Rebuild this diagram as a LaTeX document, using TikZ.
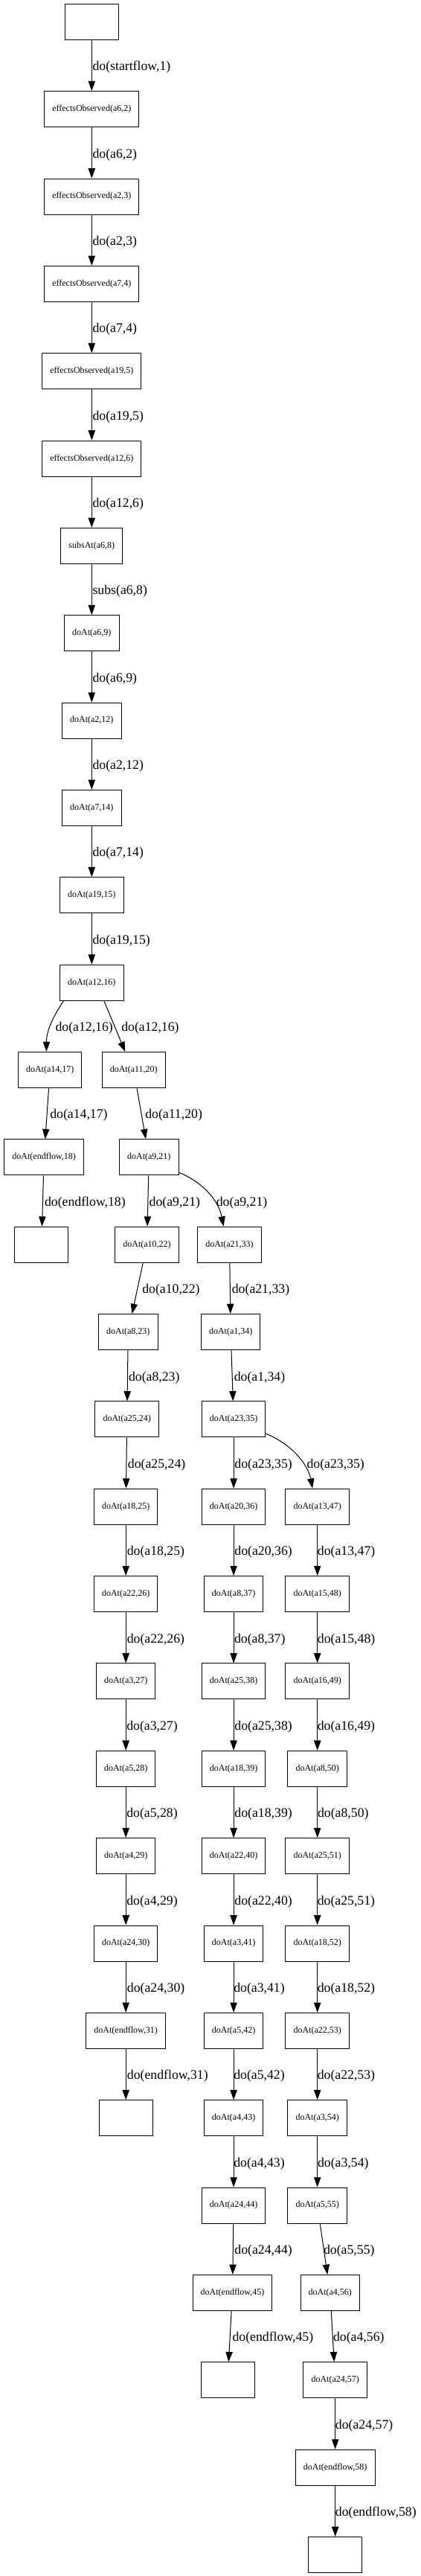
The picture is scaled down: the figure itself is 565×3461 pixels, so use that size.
\documentclass[tikz,border=0pt]{standalone}
\usepackage{fontspec}
\setmainfont{Liberation Serif}
\usetikzlibrary{arrows.meta}
\newcommand\rowy[1]{29.3+117.35*#1}
\newcommand\lab[4]{\node[lbl] (#1) at (#2,{29.3+117.35*#3+61.2}) {#4};}
\begin{document}
\begin{tikzpicture}[x=0.75pt,y=-0.75pt,
  box/.style={draw,line width=0.75pt,minimum width=54pt,minimum height=36pt,inner xsep=7.92pt,inner ysep=0pt,font=\fontsize{9pt}{10pt}\selectfont},
  edge/.style={draw,line width=0.75pt,-{Triangle[length=10pt,width=7pt]}},
  lbl/.style={anchor=west,inner sep=0pt,font=\fontsize{13.3pt}{15pt}\selectfont}]
\useasboundingbox (0,0) rectangle (565,3461);
% trunk
\node[box] (t0) at (123.3,\rowy{0}) {};
\node[box] (t1) at (123.3,\rowy{1}) {effectsObserved(a6,2)};
\node[box] (t2) at (123.3,\rowy{2}) {effectsObserved(a2,3)};
\node[box] (t3) at (123.3,\rowy{3}) {effectsObserved(a7,4)};
\node[box] (t4) at (123.3,\rowy{4}) {effectsObserved(a19,5)};
\node[box] (t5) at (123.3,\rowy{5}) {effectsObserved(a12,6)};
\node[box] (t6) at (123.3,\rowy{6}) {subsAt(a6,8)};
\node[box] (t7) at (123.3,\rowy{7}) {doAt(a6,9)};
\node[box] (t8) at (123.3,\rowy{8}) {doAt(a2,12)};
\node[box] (t9) at (123.3,\rowy{9}) {doAt(a7,14)};
\node[box] (t10) at (123.3,\rowy{10}) {doAt(a19,15)};
\node[box] (t11) at (123.3,\rowy{11}) {doAt(a12,16)};
% left branch
\node[box] (p12) at (67.2,\rowy{12}) {doAt(a14,17)};
\node[box] (p13) at (59.2,\rowy{13}) {doAt(endflow,18)};
\node[box] (p14) at (55.8,\rowy{14}) {};
% second branch
\node[box] (q12) at (179.7,\rowy{12}) {doAt(a11,20)};
\node[box] (q13) at (200.3,\rowy{13}) {doAt(a9,21)};
\node[box] (q14) at (197.5,\rowy{14}) {doAt(a10,22)};
\node[box] (q15) at (172.3,\rowy{15}) {doAt(a8,23)};
\node[box] (q16) at (170.7,\rowy{16}) {doAt(a25,24)};
\node[box] (q17) at (169.2,\rowy{17}) {doAt(a18,25)};
\node[box] (q18) at (169.2,\rowy{18}) {doAt(a22,26)};
\node[box] (q19) at (169.2,\rowy{19}) {doAt(a3,27)};
\node[box] (q20) at (169.2,\rowy{20}) {doAt(a5,28)};
\node[box] (q21) at (169.2,\rowy{21}) {doAt(a4,29)};
\node[box] (q22) at (169.2,\rowy{22}) {doAt(a24,30)};
\node[box] (q23) at (169.2,\rowy{23}) {doAt(endflow,31)};
\node[box] (q24) at (169.2,\rowy{24}) {};
% third branch
\node[box] (r14) at (308.5,\rowy{14}) {doAt(a21,33)};
\node[box] (r15) at (310.2,\rowy{15}) {doAt(a1,34)};
\node[box] (r16) at (314.1,\rowy{16}) {doAt(a23,35)};
\node[box] (r17) at (314.1,\rowy{17}) {doAt(a20,36)};
\node[box] (r18) at (314.1,\rowy{18}) {doAt(a8,37)};
\node[box] (r19) at (314.1,\rowy{19}) {doAt(a25,38)};
\node[box] (r20) at (314.1,\rowy{20}) {doAt(a18,39)};
\node[box] (r21) at (314.1,\rowy{21}) {doAt(a22,40)};
\node[box] (r22) at (314.1,\rowy{22}) {doAt(a3,41)};
\node[box] (r23) at (314.1,\rowy{23}) {doAt(a5,42)};
\node[box] (r24) at (314.1,\rowy{24}) {doAt(a4,43)};
\node[box] (r25) at (314.1,\rowy{25}) {doAt(a24,44)};
\node[box] (r26) at (312.5,\rowy{26}) {doAt(endflow,45)};
\node[box] (r27) at (306.0,\rowy{27}) {};
% fourth branch
\node[box] (s17) at (426.7,\rowy{17}) {doAt(a13,47)};
\node[box] (s18) at (426.7,\rowy{18}) {doAt(a15,48)};
\node[box] (s19) at (426.7,\rowy{19}) {doAt(a16,49)};
\node[box] (s20) at (426.7,\rowy{20}) {doAt(a8,50)};
\node[box] (s21) at (426.7,\rowy{21}) {doAt(a25,51)};
\node[box] (s22) at (426.7,\rowy{22}) {doAt(a18,52)};
\node[box] (s23) at (426.7,\rowy{23}) {doAt(a22,53)};
\node[box] (s24) at (426.7,\rowy{24}) {doAt(a3,54)};
\node[box] (s25) at (426.7,\rowy{25}) {doAt(a5,55)};
\node[box] (s26) at (443.8,\rowy{26}) {doAt(a4,56)};
\node[box] (s27) at (450.7,\rowy{27}) {doAt(a24,57)};
\node[box] (s28) at (450.7,\rowy{28}) {doAt(endflow,58)};
\node[box] (s29) at (450.7,\rowy{29}) {};
% edges: trunk
\draw[edge] (t0) -- (t1);
\draw[edge] (t1) -- (t2);
\draw[edge] (t2) -- (t3);
\draw[edge] (t3) -- (t4);
\draw[edge] (t4) -- (t5);
\draw[edge] (t5) -- (t6);
\draw[edge] (t6) -- (t7);
\draw[edge] (t7) -- (t8);
\draw[edge] (t8) -- (t9);
\draw[edge] (t9) -- (t10);
\draw[edge] (t10) -- (t11);
\draw[edge] (t11.213.5) .. controls +(-12,18) and +(0,-30) .. (p12.101);
\draw[edge] (t11.-56) -- (q12.115);
\draw[edge] (p12) -- (p13);
\draw[edge] (p13) -- (p14);
\draw[edge] (q12) -- (q13);
\draw[edge] (q13) -- (q14);
\draw[edge] (q13.-27) .. controls +(35,14) and +(-6,-32) .. (r14.108);
\draw[edge] (q14) -- (q15);
\draw[edge] (q15) -- (q16);
\draw[edge] (q16) -- (q17);
\draw[edge] (q17) -- (q18);
\draw[edge] (q18) -- (q19);
\draw[edge] (q19) -- (q20);
\draw[edge] (q20) -- (q21);
\draw[edge] (q21) -- (q22);
\draw[edge] (q22) -- (q23);
\draw[edge] (q23) -- (q24);
\draw[edge] (r14) -- (r15);
\draw[edge] (r15) -- (r16);
\draw[edge] (r16) -- (r17);
\draw[edge] (r16.-24) .. controls +(35,14) and +(-6,-32) .. (s17.105);
\draw[edge] (r17) -- (r18);
\draw[edge] (r18) -- (r19);
\draw[edge] (r19) -- (r20);
\draw[edge] (r20) -- (r21);
\draw[edge] (r21) -- (r22);
\draw[edge] (r22) -- (r23);
\draw[edge] (r23) -- (r24);
\draw[edge] (r24) -- (r25);
\draw[edge] (r25) -- (r26);
\draw[edge] (r26) -- (r27);
\draw[edge] (s17) -- (s18);
\draw[edge] (s18) -- (s19);
\draw[edge] (s19) -- (s20);
\draw[edge] (s20) -- (s21);
\draw[edge] (s21) -- (s22);
\draw[edge] (s22) -- (s23);
\draw[edge] (s23) -- (s24);
\draw[edge] (s24) -- (s25);
\draw[edge] (s25) -- (s26);
\draw[edge] (s26) -- (s27);
\draw[edge] (s27) -- (s28);
\draw[edge] (s28) -- (s29);
% labels
\lab{l0}{124.3}{0}{do(startflow,1)}
\lab{l1}{124.3}{1}{do(a6,2)}
\lab{l2}{124.3}{2}{do(a2,3)}
\lab{l3}{124.3}{3}{do(a7,4)}
\lab{l4}{124.3}{4}{do(a19,5)}
\lab{l5}{124.3}{5}{do(a12,6)}
\lab{l6}{124.3}{6}{subs(a6,8)}
\lab{l7}{124.3}{7}{do(a6,9)}
\lab{l8}{124.3}{8}{do(a2,12)}
\lab{l9}{124.3}{9}{do(a7,14)}
\lab{l10}{124.3}{10}{do(a19,15)}
\lab{l11a}{74.3}{11}{do(a12,16)}
\lab{l11b}{163.0}{11}{do(a12,16)}
\lab{l12a}{67.0}{12}{do(a14,17)}
\lab{l12b}{195.0}{12}{do(a11,20)}
\lab{l13a}{59.8}{13}{do(endflow,18)}
\lab{l13b}{200.4}{13}{do(a9,21)}
\lab{l13c}{290.6}{13}{do(a9,21)}
\lab{l14b}{191.0}{14}{do(a10,22)}
\lab{l14c}{311.6}{14}{do(a21,33)}
\lab{l15b}{172.8}{15}{do(a8,23)}
\lab{l15c}{314.5}{15}{do(a1,34)}
\lab{l16b}{171.7}{16}{do(a25,24)}
\lab{l16c}{315.2}{16}{do(a23,35)}
\lab{l16d}{412.3}{16}{do(a23,35)}
\lab{l17b}{170.5}{17}{do(a18,25)}
\lab{l17c}{315.2}{17}{do(a20,36)}
\lab{l17d}{426.7}{17}{do(a13,47)}
\lab{l18b}{170.5}{18}{do(a22,26)}
\lab{l18c}{314.8}{18}{do(a8,37)}
\lab{l18d}{426.7}{18}{do(a15,48)}
\lab{l19b}{170.0}{19}{do(a3,27)}
\lab{l19c}{315.2}{19}{do(a25,38)}
\lab{l19d}{426.5}{19}{do(a16,49)}
\lab{l20b}{170.0}{20}{do(a5,28)}
\lab{l20c}{315.2}{20}{do(a18,39)}
\lab{l20d}{426.8}{20}{do(a8,50)}
\lab{l21b}{170.0}{21}{do(a4,29)}
\lab{l21c}{315.2}{21}{do(a22,40)}
\lab{l21d}{426.5}{21}{do(a25,51)}
\lab{l22b}{170.7}{22}{do(a24,30)}
\lab{l22c}{314.0}{22}{do(a3,41)}
\lab{l22d}{426.5}{22}{do(a18,52)}
\lab{l23b}{170.7}{23}{do(endflow,31)}
\lab{l23c}{314.0}{23}{do(a5,42)}
\lab{l23d}{426.5}{23}{do(a22,53)}
\lab{l24c}{314.0}{24}{do(a4,43)}
\lab{l24d}{426.8}{24}{do(a3,54)}
\lab{l25c}{315.2}{25}{do(a24,44)}
\lab{l25d}{434.8}{25}{do(a5,55)}
\lab{l26c}{312.3}{26}{do(endflow,45)}
\lab{l26d}{447.8}{26}{do(a4,56)}
\lab{l27d}{450.7}{27}{do(a24,57)}
\lab{l28d}{450.7}{28}{do(endflow,58)}
\end{tikzpicture}
\end{document}
